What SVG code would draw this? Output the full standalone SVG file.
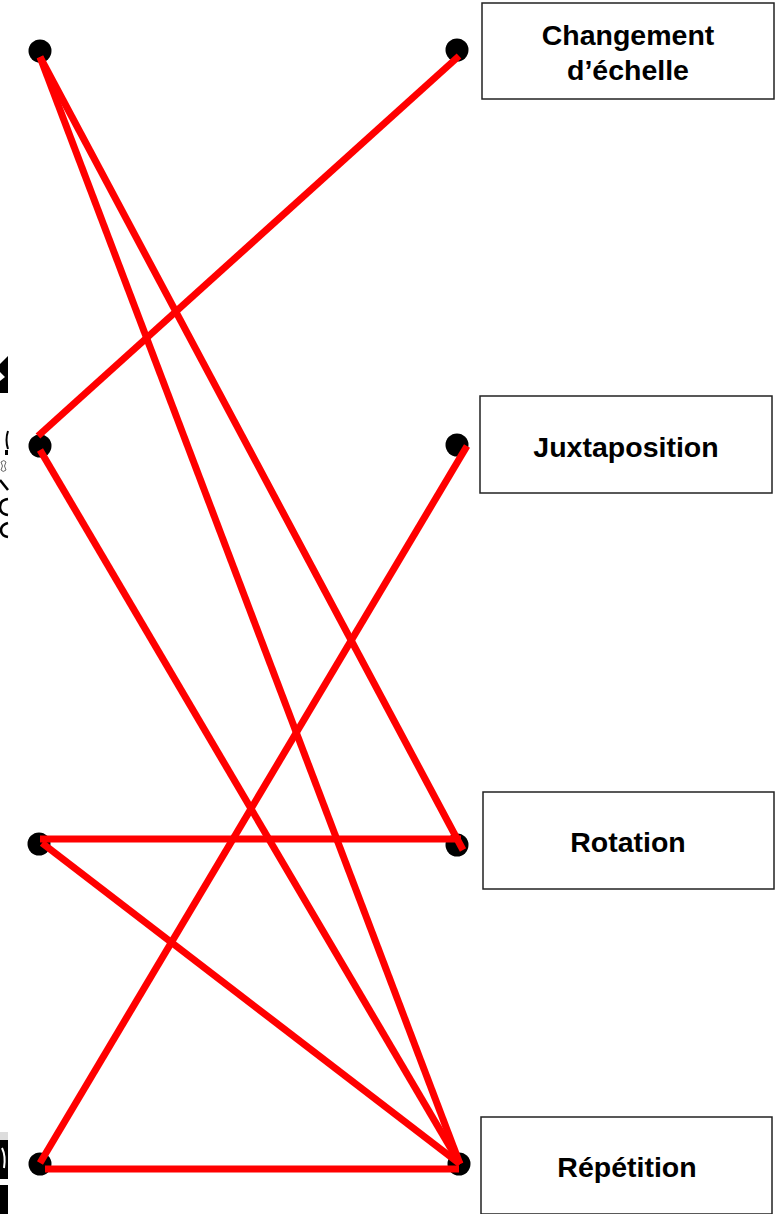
<svg xmlns="http://www.w3.org/2000/svg" width="779" height="1214" viewBox="0 0 779 1214">
<style>
.box{fill:#fff;stroke:#222;stroke-width:1.5}
.lbl{font-family:"Liberation Sans",Arial,sans-serif;font-weight:bold;font-size:28.5px;fill:#000;text-anchor:middle}
.dot{fill:#000}
.conn line{stroke:#ff0000;stroke-width:7;stroke-linecap:butt}
.frag{fill:#000}
</style>
<rect width="779" height="1214" fill="#fff"/>
<g id="edge-fragments">
<polygon class="frag" points="0,364 8,356 8,393 0,393 0,381 5,377 0,372"/>
<path d="M8,431 Q5,440 8,449" fill="none" stroke="#000" stroke-width="2"/>
<rect class="frag" x="5" y="450" width="3" height="5"/>
<path d="M1,462 Q4,459 6,462 Q3,466 6,470 Q3,473 1,470 Q4,466 1,462Z" fill="none" stroke="#666" stroke-width="1"/>
<path d="M0,480 L8,490" stroke="#000" stroke-width="2.5"/>
<path d="M8,499 Q0,500 0,507 Q0,514 8,515" fill="none" stroke="#000" stroke-width="2.5"/>
<path d="M8,523 Q1,525 1,530 Q1,536 8,537" fill="none" stroke="#000" stroke-width="2.5"/>
<rect x="0" y="1132" width="8" height="8" fill="#ddd"/>
<rect class="frag" x="0" y="1140" width="8" height="39"/>
<path d="M2,1148 Q6,1156 4,1168" fill="none" stroke="#fff" stroke-width="2"/>
<rect class="frag" x="0" y="1185" width="8" height="29"/>
</g>
<g id="node-changement">
<rect class="box" x="482" y="3" width="292" height="96"/>
<text class="lbl" x="628" y="45">Changement</text>
<text class="lbl" x="628" y="80">d’échelle</text>
</g>
<g id="node-juxtaposition">
<rect class="box" x="480" y="396" width="292" height="97"/>
<text class="lbl" x="626" y="457">Juxtaposition</text>
</g>
<g id="node-rotation">
<rect class="box" x="483" y="792" width="291" height="97"/>
<text class="lbl" x="628" y="852">Rotation</text>
</g>
<g id="node-repetition">
<rect class="box" x="481" y="1117" width="291" height="97"/>
<text class="lbl" x="627" y="1177">Répétition</text>
</g>
<g id="dots">
<circle id="dot-l1" class="dot" cx="40" cy="51" r="11.5"/>
<circle id="dot-l2" class="dot" cx="40" cy="446" r="11.5"/>
<circle id="dot-l3" class="dot" cx="39" cy="844" r="11.5"/>
<circle id="dot-l4" class="dot" cx="40" cy="1164" r="11.5"/>
<circle id="dot-r1" class="dot" cx="457" cy="50" r="11.5"/>
<circle id="dot-r2" class="dot" cx="457" cy="445" r="11.5"/>
<circle id="dot-r3" class="dot" cx="457" cy="845" r="11.5"/>
<circle id="dot-r4" class="dot" cx="459" cy="1164" r="11.5"/>
</g>
<g id="connectors" class="conn">
<line x1="40" y1="57" x2="463" y2="850"/>
<line x1="40" y1="57" x2="460" y2="1164"/>
<line x1="38" y1="436" x2="459" y2="56"/>
<line x1="40" y1="450" x2="460" y2="1164"/>
<line x1="467" y1="446" x2="40" y2="1163"/>
<line x1="40" y1="839" x2="461" y2="839"/>
<line x1="42" y1="843" x2="460" y2="1164"/>
<line x1="45" y1="1169" x2="459" y2="1169"/>
</g>
</svg>
